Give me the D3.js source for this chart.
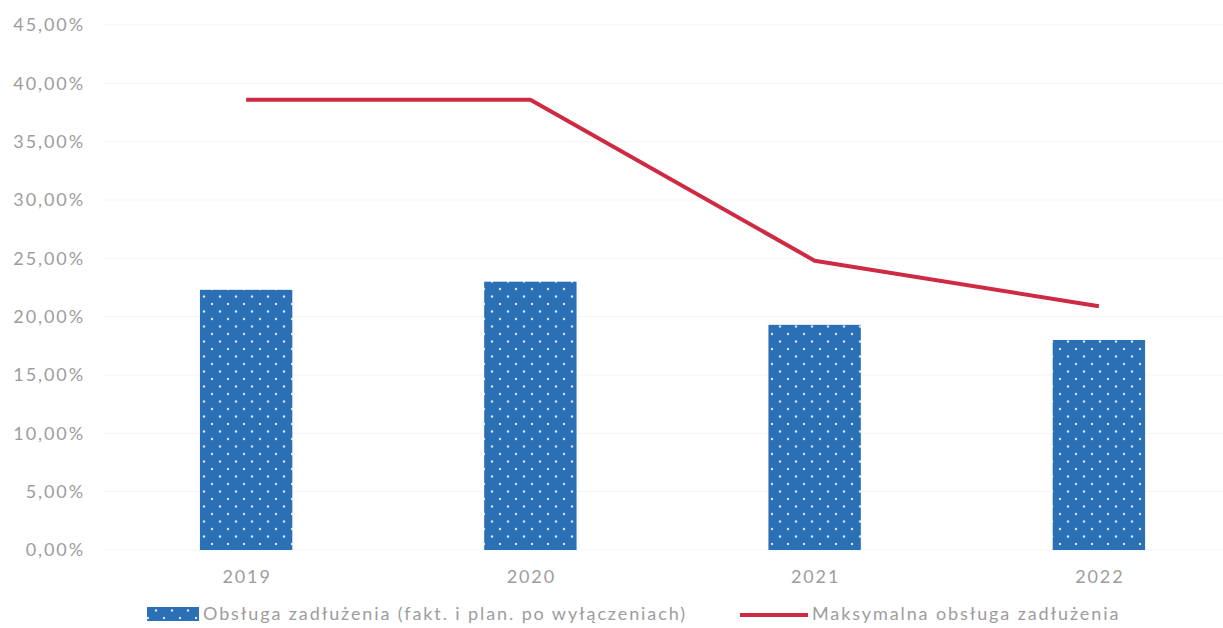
<!DOCTYPE html>
<html>
<head>
<meta charset="utf-8">
<script src="https://cdn.jsdelivr.net/npm/d3@7"></script>
<style>
  body { margin: 0; background: #fff; }
  text { font-family: Lato, "Open Sans", sans-serif; fill: #9d9d9d; letter-spacing: 1.9px; }
</style>
</head>
<body>
<svg id="chart" width="1223" height="628"></svg>
<script>
var years = ["2019", "2020", "2021", "2022"];
var debtService = [22.3, 23.0, 19.3, 18.0];
var maxDebtService = [38.6, 38.6, 24.8, 20.9];
var yTicks = [0, 5, 10, 15, 20, 25, 30, 35, 40, 45];
var barLabel = "Obsługa zadłużenia (fakt. i plan. po wyłączeniach)";
var lineLabel = "Maksymalna obsługa zadłużenia";

var svg = d3.select("#chart");
var blue = "#2b6fb4",
    red = "#cf2a43";

// dotted fill for the bars
var defs = svg.append("defs");
var pat = defs.append("pattern")
  .attr("id", "dots")
  .attr("patternUnits", "userSpaceOnUse")
  .attr("width", 16)
  .attr("height", 15);
pat.append("rect").attr("width", 16).attr("height", 15).attr("fill", blue);
pat.append("circle").attr("cx", 4).attr("cy", 4).attr("r", 1.2).attr("fill", "#d6e6f7");
pat.append("circle").attr("cx", 12).attr("cy", 11.5).attr("r", 1.2).attr("fill", "#d6e6f7");

var x = d3.scaleBand()
  .domain(years)
  .range([104, 1241])
  .paddingInner(0.675)
  .paddingOuter(0.3375);

var y = d3.scaleLinear()
  .domain([0, 45])
  .range([550, 25]);

// faint gridlines
svg.append("g")
  .selectAll("line")
  .data(yTicks)
  .enter()
  .append("line")
    .attr("x1", 104)
    .attr("x2", 1223)
    .attr("y1", function (d) { return y(d); })
    .attr("y2", function (d) { return y(d); })
    .attr("stroke", "#f5f5f5")
    .attr("stroke-width", 1);

var yAxis = svg.append("g")
  .attr("transform", "translate(85,0)")
  .call(d3.axisLeft(y)
    .tickValues(yTicks)
    .tickSize(0)
    .tickPadding(0)
    .tickFormat(function (d) { return d3.format(".2f")(d).replace(".", ",") + "%"; }));
yAxis.select(".domain").remove();
yAxis.selectAll("text")
  .style("font-size", "18px")
  .style("font-family", "Lato, 'Open Sans', sans-serif")
  .attr("fill", "#9d9d9d");

svg.selectAll(".bar")
  .data(debtService)
  .enter()
  .append("rect")
    .attr("class", "bar")
    .attr("x", function (d, i) { return x(years[i]); })
    .attr("y", function (d) { return y(d); })
    .attr("width", x.bandwidth())
    .attr("height", function (d) { return y(0) - y(d); })
    .attr("fill", "url(#dots)");

var xAxis = svg.append("g")
  .attr("transform", "translate(1," + (y(0) + 20) + ")")
  .call(d3.axisBottom(x).tickSize(0).tickPadding(0));
xAxis.select(".domain").remove();
xAxis.selectAll("text")
  .style("font-size", "18px")
  .style("font-family", "Lato, 'Open Sans', sans-serif")
  .attr("fill", "#9d9d9d");

var line = d3.line()
  .x(function (d, i) { return x(years[i]) + x.bandwidth() / 2; })
  .y(function (d) { return y(d); });

svg.append("path")
  .datum(maxDebtService)
  .attr("d", line)
  .attr("fill", "none")
  .attr("stroke", red)
  .attr("stroke-width", 4)
  .attr("stroke-linejoin", "round");

// legend
var legend = svg.append("g").attr("transform", "translate(0,614)");
legend.append("rect")
  .attr("x", 147).attr("y", -7)
  .attr("width", 52).attr("height", 14)
  .attr("fill", "url(#dots)");
legend.append("text")
  .attr("x", 203).attr("y", 0)
  .attr("dy", "0.35em")
  .style("font-size", "18px")
  .text(barLabel);
legend.append("line")
  .attr("x1", 740).attr("x2", 808)
  .attr("y1", 1).attr("y2", 1)
  .attr("stroke", red)
  .attr("stroke-width", 4);
legend.append("text")
  .attr("x", 812).attr("y", 0)
  .attr("dy", "0.35em")
  .style("font-size", "18px")
  .text(lineLabel);
</script>
</body>
</html>
